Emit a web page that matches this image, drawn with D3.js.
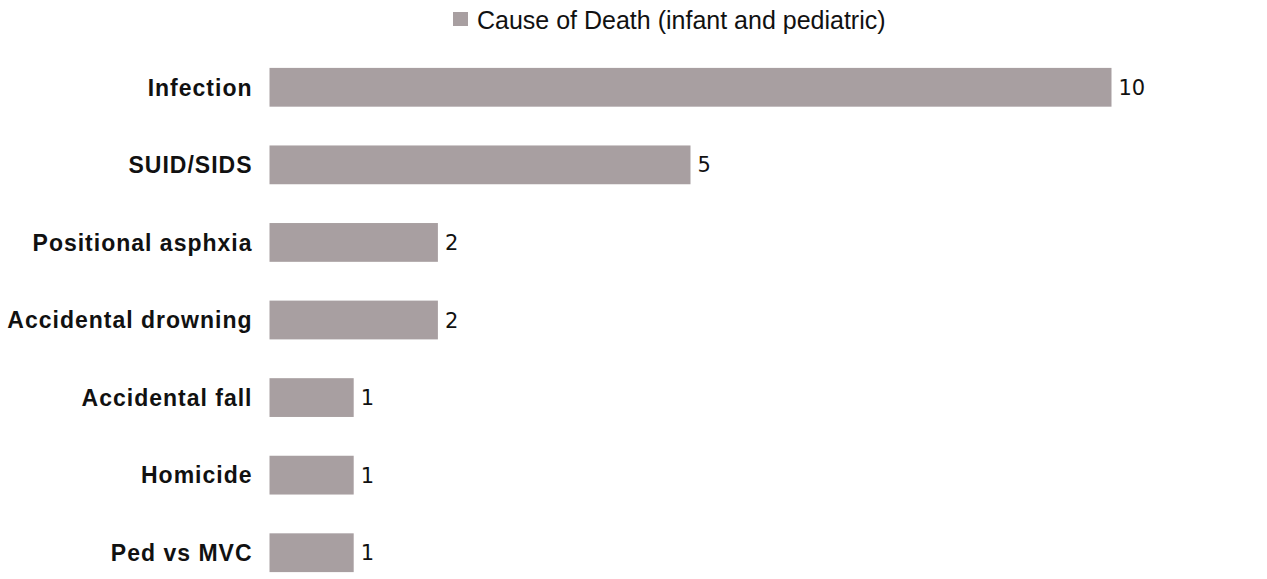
<!DOCTYPE html>
<html>
<head>
<meta charset="utf-8">
<script src="https://cdn.jsdelivr.net/npm/d3@7"></script>
<style>
  body { margin: 0; background: #fff; }
  svg { display: block; font-family: "Liberation Sans", Arial, sans-serif; }
</style>
</head>
<body>
<svg></svg>
<script>
const causes = ['Infection', 'SUID/SIDS', 'Positional asphxia', 'Accidental drowning',
                'Accidental fall', 'Homicide', 'Ped vs MVC'];
const deaths = [10, 5, 2, 2, 1, 1, 1];
const seriesName = 'Cause of Death (infant and pediatric)';

const width = 1267;
const height = 579;
const barColor = '#a89fa1';

const svg = d3.select('svg')
    .attr('width', width)
    .attr('height', height);

const x = d3.scaleLinear()
            .domain([0, 10])
            .range([269.5, 1111.5]);

const y = d3.scaleBand()
            .domain(causes)
            .range([48.5, 591.5])
            .paddingInner(0.5)
            .paddingOuter(0.25);

const data = causes.map((c, i) => ({cause: c, value: deaths[i]}));

svg.selectAll('.bar')
  .data(data)
  .enter()
  .append('rect')
    .classed('bar', true)
    .attr('x', x(0))
    .attr('y', d => y(d.cause))
    .attr('width', d => x(d.value) - x(0))
    .attr('height', y.bandwidth())
    .attr('fill', barColor);

// category labels
svg.selectAll('.cat')
  .data(data)
  .enter()
  .append('text')
    .classed('cat', true)
    .attr('x', x(0) - 17)
    .attr('y', d => y(d.cause) + y.bandwidth() / 2)
    .attr('dy', '0.36em')
    .attr('text-anchor', 'end')
    .attr('font-weight', 'bold')
    .attr('font-size', 23)
    .attr('letter-spacing', 1)
    .attr('fill', '#111')
    .text(d => d.cause);

// value labels
svg.selectAll('.val')
  .data(data)
  .enter()
  .append('text')
    .classed('val', true)
    .attr('x', d => x(d.value) + 7)
    .attr('y', d => y(d.cause) + y.bandwidth() / 2)
    .attr('dy', '0.36em')
    .attr('fill', '#111')
    .style('font-family', '"DejaVu Sans", sans-serif')
    .style('font-size', '21px')
    .text(d => d.value);

// legend
const legend = svg.append('g').attr('transform', 'translate(453, 12)');
legend.append('rect')
    .attr('width', 15)
    .attr('height', 14)
    .attr('fill', barColor);
legend.append('text')
    .attr('x', 24)
    .attr('y', 8)
    .attr('dy', '0.36em')
    .attr('font-size', 25)
    .attr('fill', '#111')
    .text(seriesName);
</script>
</body>
</html>
